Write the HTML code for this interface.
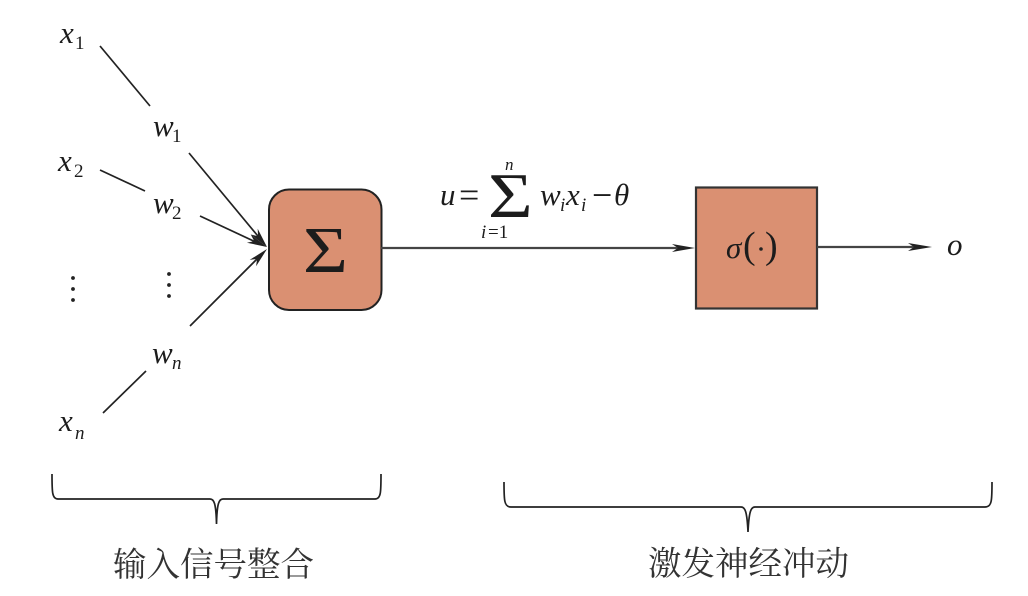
<!DOCTYPE html>
<html><head><meta charset="utf-8">
<style>
html,body{margin:0;padding:0;background:#fff;width:1028px;height:596px;overflow:hidden}
svg{display:block}
text{fill:#1c1c1c}
.m{font-family:"Liberation Serif",serif;font-style:italic;font-size:31px}
.s{font-family:"Liberation Serif",serif;font-size:19px}
.si{font-family:"Liberation Serif",serif;font-style:italic;font-size:19px}
.r{font-family:"Liberation Serif",serif;font-size:30px}
.c{font-family:"Noto Serif CJK SC","Liberation Serif",serif;font-size:33.500px;fill:#333}
</style></head><body>
<svg width="1028" height="596" viewBox="0 0 1028 596" xmlns="http://www.w3.org/2000/svg">
<rect x="269" y="189.500" width="112.500" height="120.500" rx="20" fill="#da9072" stroke="#222" stroke-width="2"/>
<rect x="696" y="187.500" width="121" height="121" fill="#da9072" stroke="#333" stroke-width="2.200"/>
<g stroke="#222" stroke-width="1.700" fill="none">
<line x1="100" y1="46" x2="150" y2="106"/>
<line x1="189" y1="153" x2="262" y2="241"/>
<line x1="100" y1="170" x2="145" y2="191"/>
<line x1="200" y1="216" x2="260" y2="244"/>
<line x1="103" y1="413" x2="146" y2="371"/>
<line x1="190" y1="326" x2="260" y2="256"/>
<line x1="381" y1="248" x2="682" y2="248" stroke-width="2.200" stroke="#444"/>
<line x1="817" y1="247" x2="918" y2="247" stroke-width="2.200" stroke="#444"/>
<path d="M52 474 C52 492 52 499 58 499 L210 499 C214 499 216 503 216.500 524 C217 503 219 499 223 499 L375 499 C381 499 381 492 381 474"/>
<path d="M504 482 C504 500 504 507 511 507 L741 507 C745 507 747 511 748 532 C749 511 751 507 755 507 L985 507 C992 507 992 500 992 482"/>
</g>
<g fill="#222">
<path d="M267 247 L257.700 228.700 L258 236.200 L250.700 234.500Z"/>
<path d="M267 247 L250.700 234.500 L254.300 241.100 L246.900 242.700Z"/>
<path d="M267 249 L256.100 266.300 L257.100 258.900 L249.700 259.900Z"/>
<path d="M695 248 L672 244 L678 248 L672 252Z"/>
<path d="M932 247 L908 243 L914 247 L908 251Z"/>
<circle cx="73" cy="278" r="1.900"/><circle cx="73" cy="289" r="1.900"/><circle cx="73" cy="300" r="1.900"/>
<circle cx="169" cy="274" r="1.900"/><circle cx="169" cy="285" r="1.900"/><circle cx="169" cy="296" r="1.900"/>
<circle cx="761" cy="249" r="1.800"/>
</g>
<text class="m" x="60" y="43">x</text><text class="s" x="75" y="49">1</text>
<text class="m" x="58" y="171">x</text><text class="s" x="74" y="177">2</text>
<text class="m" x="59" y="431">x</text><text class="si" x="75" y="439">n</text>
<text class="m" x="153" y="136">w</text><text class="s" x="172" y="142">1</text>
<text class="m" x="153" y="213">w</text><text class="s" x="172" y="219">2</text>
<text class="m" x="152" y="363">w</text><text class="si" x="172" y="369">n</text>
<text class="r" transform="translate(303 272) scale(1.170 1)" style="font-size:66px">Σ</text>
<text class="m" x="440" y="205">u</text>
<text class="r" x="459" y="207" style="font-size:36px">=</text>
<text class="r" transform="translate(488 217) scale(1.200 1)" style="font-size:64px">Σ</text>
<text class="si" x="481" y="238">i</text><text class="s" x="488" y="238">=1</text>
<text class="si" x="505" y="170" style="font-size:17px">n</text>
<text class="m" x="540" y="205">w</text><text class="si" x="560" y="211">i</text>
<text class="m" x="566" y="205">x</text><text class="si" x="581" y="211">i</text>
<text class="r" x="592" y="207" style="font-size:36px">−</text>
<text class="m" x="614" y="205">θ</text>
<text class="m" x="726" y="258">σ</text>
<text class="r" x="743" y="258" style="font-size:38px">(</text>
<text class="r" x="765" y="258" style="font-size:38px">)</text>
<text class="m" x="947" y="255">o</text>
<text class="c" x="113" y="576">输入信号整合</text>
<text class="c" x="648" y="575">激发神经冲动</text>
</svg>
</body></html>
